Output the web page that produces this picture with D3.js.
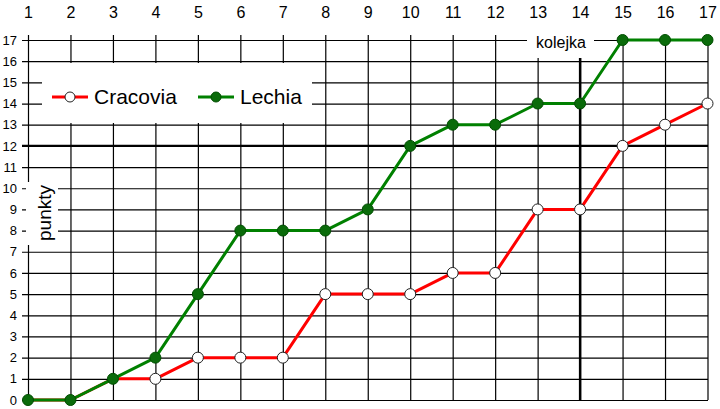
<!DOCTYPE html>
<html>
<head>
<meta charset="utf-8">
<script src="https://cdn.jsdelivr.net/npm/d3@7"></script>
<style>
  body { margin: 0; background: #fff; }
  svg { display: block; font-family: "Liberation Sans", Arial, sans-serif; }
</style>
</head>
<body>
<svg id="chart" width="720" height="409"></svg>
<script>
// kolejki (rounds) and points after each round
const rounds = [1, 2, 3, 4, 5, 6, 7, 8, 9, 10, 11, 12, 13, 14, 15, 16, 17];
const cracovia = [0, 0, 1, 1, 2, 2, 2, 5, 5, 5, 6, 6, 9, 9, 12, 13, 14];
const lechia = [0, 0, 1, 2, 5, 8, 8, 8, 9, 12, 13, 13, 14, 14, 17, 17, 17];
const yTicks = [0, 1, 2, 3, 4, 5, 6, 7, 8, 9, 10, 11, 12, 13, 14, 15, 16, 17];
const seriesNames = ["Cracovia", "Lechia"];

const svg = d3.select("#chart");

const x = d3.scaleLinear().domain([1, 17]).range([28, 707.5]);
const y = d3.scaleLinear().domain([0, 17]).range([400, 40]);

// horizontal grid + left labels
const yAxis = svg.append("g")
  .attr("transform", "translate(22,0)")
  .call(d3.axisLeft(y).tickValues(yTicks).tickSize(-(708 - 22)).tickPadding(5));
yAxis.select(".domain").remove();
yAxis.selectAll("line").attr("stroke", "#000").attr("stroke-width", 1.2);
yAxis.selectAll("text").attr("font-size", 13).attr("fill", "#000");

// vertical grid + top labels
const xAxis = svg.append("g")
  .attr("transform", "translate(0,35)")
  .call(d3.axisTop(x).tickValues(rounds).tickSize(-(400 - 35)).tickPadding(17));
xAxis.select(".domain").remove();
xAxis.selectAll("line").attr("stroke", "#000").attr("stroke-width", 1.2);
xAxis.selectAll("text").attr("font-size", 16).attr("fill", "#000");

// white boxes behind labels and legend
svg.append("rect").attr("x", 527).attr("y", 29).attr("width", 67).attr("height", 29).attr("fill", "#fff");
svg.append("rect").attr("x", 26).attr("y", 182).attr("width", 32).attr("height", 63).attr("fill", "#fff");
svg.append("rect").attr("x", 42).attr("y", 63).attr("width", 270).attr("height", 60).attr("fill", "#fff");

// bold reference lines
svg.append("line")
  .attr("x1", 22).attr("x2", 708)
  .attr("y1", y(12)).attr("y2", y(12))
  .attr("stroke", "#000").attr("stroke-width", 2.4);
svg.append("line")
  .attr("x1", x(14)).attr("x2", x(14))
  .attr("y1", 58).attr("y2", 400)
  .attr("stroke", "#000").attr("stroke-width", 2.4);

// axis titles
svg.append("text")
  .attr("x", 561).attr("y", 48)
  .attr("text-anchor", "middle")
  .attr("font-size", 16)
  .text("kolejka");

svg.append("text")
  .attr("transform", "translate(51,213) rotate(-90)")
  .attr("text-anchor", "middle")
  .attr("font-size", 19)
  .text("punkty");

// series
const line = d3.line()
  .x((d, i) => x(rounds[i]))
  .y(d => y(d));

svg.append("path")
  .datum(cracovia)
  .attr("d", line)
  .attr("fill", "none")
  .attr("stroke", "#ff0000")
  .attr("stroke-width", 3)
  .attr("stroke-linejoin", "round");

svg.append("path")
  .datum(lechia)
  .attr("d", line)
  .attr("fill", "none")
  .attr("stroke", "#008000")
  .attr("stroke-width", 3)
  .attr("stroke-linejoin", "round");

// Cracovia markers (hidden where Lechia sits on the same point)
const craIdx = rounds.map((r, i) => i).filter(i => cracovia[i] !== lechia[i]);
svg.selectAll(".cracovia-pt")
  .data(craIdx)
  .enter()
  .append("circle")
  .attr("class", "cracovia-pt")
  .attr("cx", i => x(rounds[i]))
  .attr("cy", i => y(cracovia[i]))
  .attr("r", 5.5)
  .attr("fill", "#fff")
  .attr("stroke", "#222")
  .attr("stroke-width", 1);

svg.selectAll(".lechia-pt")
  .data(lechia)
  .enter()
  .append("circle")
  .attr("class", "lechia-pt")
  .attr("cx", (d, i) => x(rounds[i]))
  .attr("cy", d => y(d))
  .attr("r", 5.5)
  .attr("fill", "#0a6b0a")
  .attr("stroke", "#004d00")
  .attr("stroke-width", 1);

// legend
const legend = [
  { name: seriesNames[0], color: "#ff0000", fill: "#fff", mark: "#222", x0: 52 },
  { name: seriesNames[1], color: "#008000", fill: "#0a6b0a", mark: "#004d00", x0: 198 }
];
const lg = svg.append("g");
legend.forEach(l => {
  lg.append("line")
    .attr("x1", l.x0).attr("x2", l.x0 + 36)
    .attr("y1", 97).attr("y2", 97)
    .attr("stroke", l.color).attr("stroke-width", 3);
  lg.append("circle")
    .attr("cx", l.x0 + 18).attr("cy", 97).attr("r", 5)
    .attr("fill", l.fill).attr("stroke", l.mark);
  lg.append("text")
    .attr("x", l.x0 + 42).attr("y", 104)
    .attr("font-size", 21)
    .text(l.name);
});
</script>
</body>
</html>
